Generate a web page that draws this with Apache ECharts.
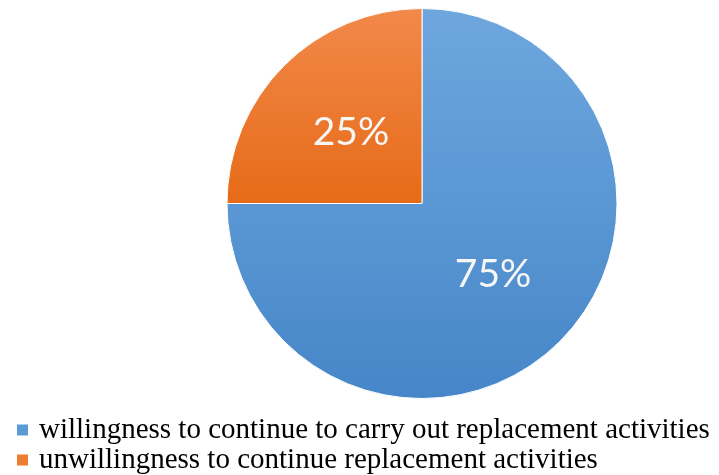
<!DOCTYPE html>
<html>
<head>
<meta charset="utf-8">
<script src="https://cdn.jsdelivr.net/npm/echarts@6/dist/echarts.min.js"></script>
<style>
  html, body { margin: 0; padding: 0; background: #ffffff; }
  #chart { width: 719px; height: 475px; }
</style>
</head>
<body>
<div id="chart"></div>
<script>
// Share of respondents by willingness to keep doing replacement activities
const categories = [
  'willingness to continue to carry out replacement activities',
  'unwillingness to continue replacement activities'
];
const shares = [75, 25];

// Slice fills: vertical gradients (top colour, bottom colour)
const sliceColors = [
  ['#6ea7de', '#4686c8'],
  ['#f2894a', '#e66b18']
];
const legendColors = ['#5b9bd5', '#ed7d31'];

const chart = echarts.init(document.getElementById('chart'), null, { renderer: 'canvas' });

const pieData = categories.map((name, i) => ({
  name: name,
  value: shares[i],
  itemStyle: {
    color: new echarts.graphic.LinearGradient(0, 0, 0, 1, [
      { offset: 0, color: sliceColors[i][0] },
      { offset: 1, color: sliceColors[i][1] }
    ]),
    borderColor: '#ffffff',
    borderWidth: 1
  }
}));

// One legend row per category, stacked under the pie
const legendRowTops = [415, 445];
const legends = categories.map((name, i) => ({
  orient: 'vertical',
  left: 15,
  top: legendRowTops[i],
  padding: 0,
  itemWidth: 13,
  itemHeight: 13,
  icon: 'rect',
  selectedMode: false,
  data: [{ name: name, itemStyle: { color: legendColors[i] } }],
  textStyle: {
    fontFamily: '"Liberation Serif", "Times New Roman", serif',
    fontSize: 29,
    lineHeight: 30,
    color: '#000000',
    padding: [0, 0, 0, 5]
  }
}));

chart.setOption({
  animation: false,
  backgroundColor: '#ffffff',
  legend: legends,
  series: [{
    type: 'pie',
    center: [422, 203.5],
    radius: 195,
    startAngle: 90,
    clockwise: true,
    label: {
      show: true,
      position: 'inside',
      formatter: '{d}%',
      color: '#f7f7f7',
      fontFamily: 'Lato, "Open Sans", sans-serif',
      fontSize: 39
    },
    labelLine: { show: false },
    emphasis: { disabled: true },
    data: pieData
  }]
});
</script>
</body>
</html>
